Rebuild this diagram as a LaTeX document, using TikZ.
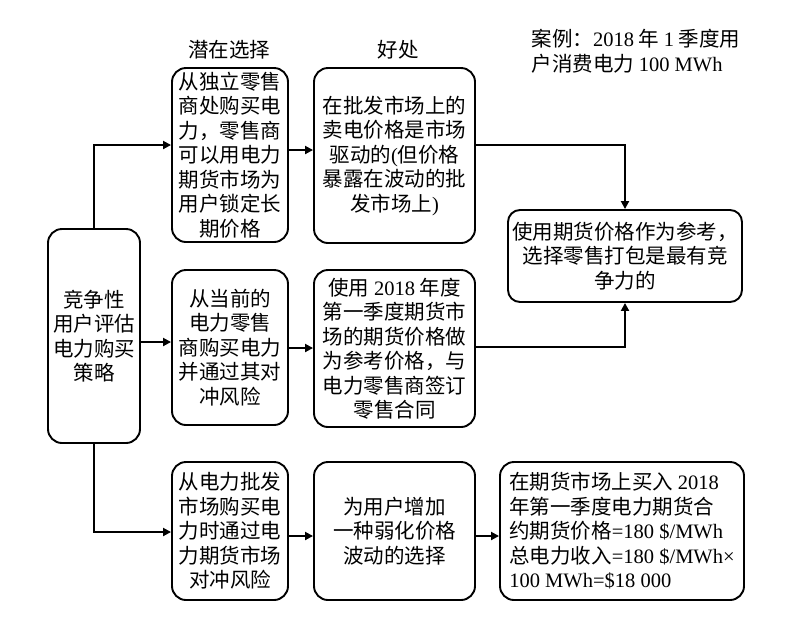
\documentclass[tikz,border=0pt]{standalone}
\usepackage{fontspec}
\setmainfont{Noto Sans CJK SC}
\newfontfamily\lat{Liberation Serif}
\usetikzlibrary{arrows.meta}
\begin{document}
\begin{tikzpicture}[x=1pt,y=-1pt,
 box/.style={draw, line width=1.9pt, rounded corners=14pt, align=center, inner sep=0pt, font=\fontsize{20.5}{24.5}\selectfont},
 arr/.style={line width=1.9pt, line join=miter, -{Triangle[length=8pt,width=8pt]}},
 lbl/.style={font=\fontsize{20.5}{24.5}\selectfont, inner sep=0pt}]
\useasboundingbox (0,0) rectangle (811,630);
\fill[white] (0,0) rectangle (811,630);

\node[lbl] (h1) at (229,50) {潜在选择};
\node[lbl] (h2) at (398,50) {好处};
\node[lbl, align=left] (case) at (636,51) {案例：{\lat 2018} 年 {\lat 1} 季度用\\户消费电力 {\lat 100 MWh}};

\node[box, minimum width=92pt, minimum height=214pt] (L) at (94,336) {竞争性\\用户评估\\电力购买\\策略};

\node[box, minimum width=116pt, minimum height=174pt] (A1) at (230,155) {从独立零售\\商处购买电\\力，零售商\\可以用电力\\期货市场为\\用户锁定长\\期价格};
\node[box, minimum width=161pt, minimum height=175pt] (B1) at (394.5,155.5) {在批发市场上的\\卖电价格是市场\\驱动的{\lat (}但价格\\暴露在波动的批\\发市场上{\lat )}};
\node[box, minimum width=234pt, minimum height=92pt, rounded corners=12pt] (R) at (625,256) {使用期货价格作为参考，\\选择零售打包是最有竞\\争力的};

\node[box, minimum width=116pt, minimum height=155pt] (A2) at (230,347.5) {从当前的\\电力零售\\商购买电力\\并通过其对\\冲风险};
\node[box, minimum width=161pt, minimum height=157pt] (B2) at (394.5,348.5) {使用 {\lat 2018} 年度\\第一季度期货市\\场的期货价格做\\为参考价格，与\\电力零售商签订\\零售合同};

\node[box, minimum width=116pt, minimum height=138pt] (A3) at (230,531) {从电力批发\\市场购买电\\力时通过电\\力期货市场\\对冲风险};
\node[box, minimum width=161pt, minimum height=138pt] (B3) at (394.5,531) {为用户增加\\一种弱化价格\\波动的选择};
\node[box, minimum width=244pt, minimum height=138pt, align=left] (C3) at (622,531) {在期货市场上买入 {\lat 2018}\\年第一季度电力期货合\\约期货价格{\lat =180 \$/MWh}\\总电力收入{\lat =180 \$/MWh×}\\{\lat 100 MWh=\$18 000}};

\coordinate (j1) at (94,145);
\draw[arr] (L.north) -- (j1) -- (A1.west |- j1);
\coordinate (y1) at (0,150);
\draw[arr] (A1.east |- y1) -- (B1.west |- y1);
\coordinate (j2) at (625,145);
\draw[arr] (B1.east |- j2) -- (j2) -- (R.north);

\coordinate (y2) at (0,342);
\draw[arr] (L.east |- y2) -- (A2.west |- y2);
\coordinate (y3) at (0,348);
\draw[arr] (A2.east |- y3) -- (B2.west |- y3);
\coordinate (j3) at (625,347);
\draw[arr] (B2.east |- j3) -- (j3) -- (R.south);

\coordinate (j4) at (94,532);
\draw[arr] (L.south) -- (j4) -- (A3.west |- j4);
\coordinate (y4) at (0,536);
\draw[arr] (A3.east |- y4) -- (B3.west |- y4);
\draw[arr] (B3.east |- y4) -- (C3.west |- y4);
\end{tikzpicture}
\end{document}
